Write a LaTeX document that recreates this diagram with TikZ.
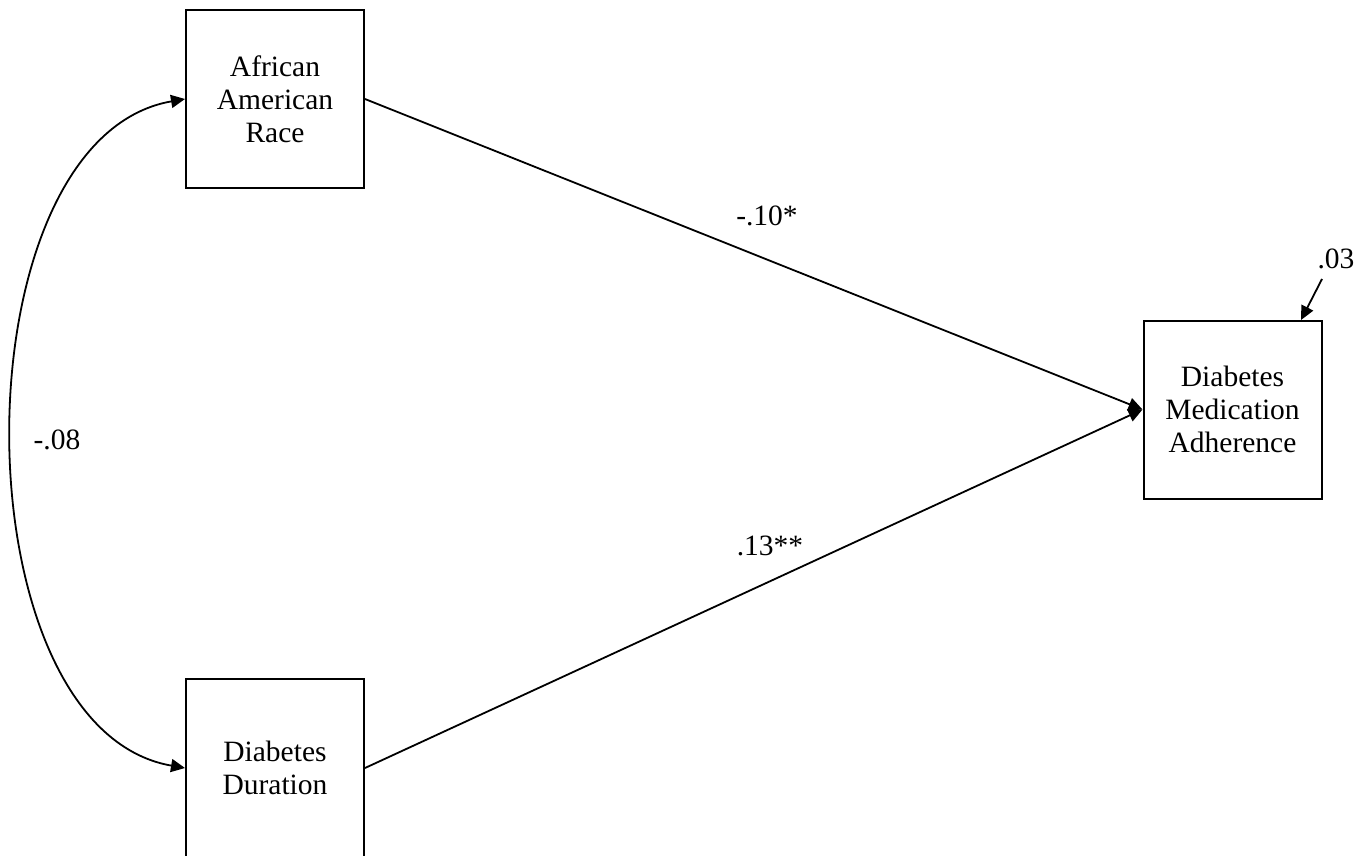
\documentclass[tikz,border=0pt]{standalone}
\usepackage{fontspec}
\setmainfont{Liberation Serif}
\usetikzlibrary{arrows.meta}
\begin{document}
\begin{tikzpicture}[x=1pt,y=-1pt,
  varbox/.style={draw,line width=2pt,minimum width=178pt,minimum height=178pt,inner sep=0pt,align=center,font=\fontsize{29.5}{33}\selectfont},
  lbl/.style={inner sep=0pt,font=\fontsize{29.5}{33}\selectfont},
  arr/.style={line width=1.8pt,-{Triangle[length=14pt,width=13pt]}}]
\useasboundingbox (0,0) rectangle (1371,856);
\node[varbox] (aar) at (275,99) {African\\American\\Race};
\node[varbox] (dd) at (275,768) {Diabetes\\Duration};
\node[varbox] (dma) at (1232.5,409.5) {Diabetes\\Medication\\Adherence};
\draw[arr] (aar.east) -- (dma.west);
\draw[arr] (dd.east) -- (dma.west);
\draw[arr,{Triangle[length=14pt,width=13pt]}-{Triangle[length=14pt,width=13pt]}] (aar.west) .. controls (-45,139) and (-45,728) .. (dd.west);
\node[lbl] (l1) at (767,216) {-.10*};
\node[lbl] (l2) at (770,546) {.13**};
\node[lbl] (l3) at (57,440) {-.08};
\node[lbl] (l4) at (1336,259) {.03};
\coordinate (e) at (1322,279);
\draw[arr] (e) -- (1301,320);
\end{tikzpicture}
\end{document}
